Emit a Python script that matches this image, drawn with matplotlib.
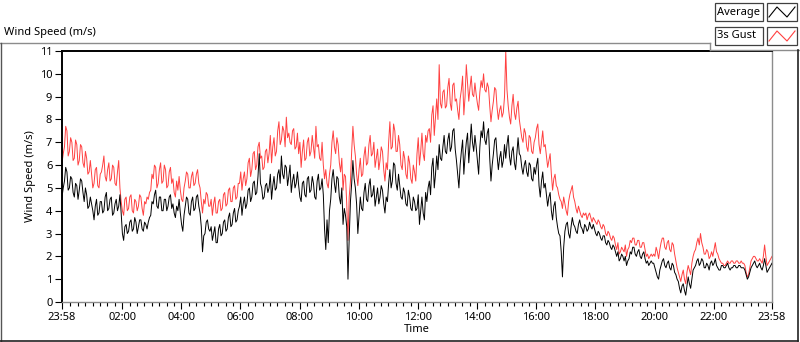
import matplotlib
matplotlib.use("Agg")
import matplotlib.pyplot as plt
from matplotlib.lines import Line2D
from matplotlib.patches import Rectangle
import numpy as np

plt.rcParams['font.family'] = ['Noto Sans', 'DejaVu Sans']

# ---- data: 2.5-minute samples from 23:58 (one row per hour) ----
average = [
    4.6,5.0,5.3,5.9,5.7,4.9,5.0,5.5,5.4,4.8,4.6,5.2,5.1,4.5,4.9,5.4,5.3,4.8,4.4,5.0,4.7,4.1,4.2,4.6,
    4.3,4.0,3.6,4.2,4.5,3.8,3.9,4.4,4.4,3.9,4.0,4.6,4.8,4.0,4.1,4.5,4.6,3.8,3.9,4.3,4.5,4.0,4.2,4.7,
    3.9,3.0,2.7,3.3,3.4,3.0,3.1,3.5,3.6,3.1,3.2,3.7,3.5,3.0,3.3,3.6,3.6,3.2,3.1,3.5,3.4,3.2,3.5,3.7,
    3.8,4.4,4.3,4.7,4.9,4.2,4.1,4.6,4.6,4.0,4.0,4.5,4.5,4.0,4.2,4.6,4.7,4.1,4.3,3.9,3.7,4.2,4.0,4.5,
    3.9,3.4,3.1,3.8,4.2,4.6,4.5,3.9,3.8,4.4,4.6,4.0,4.1,4.6,4.7,4.2,3.9,3.3,2.2,2.9,3.0,3.5,3.6,3.2,
    3.1,3.3,2.7,3.0,3.3,2.6,2.6,3.2,3.4,2.9,3.0,3.5,3.6,3.1,3.2,3.7,3.9,3.3,3.4,3.9,4.1,3.5,3.6,4.0,
    4.2,4.6,3.8,4.3,4.6,4.1,4.3,4.9,5.0,4.4,4.6,5.2,5.3,4.7,4.8,5.5,6.5,5.2,5.0,4.5,4.6,5.1,5.2,4.8,
    5.0,5.6,4.5,5.1,5.5,4.9,5.0,5.6,5.8,5.2,6.4,5.6,5.4,6.0,5.9,5.1,5.5,6.0,4.8,5.3,5.6,5.0,5.2,5.7,
    5.1,4.6,4.4,5.2,5.3,4.7,4.6,5.4,5.5,4.8,4.9,5.5,5.2,4.6,4.5,5.3,5.6,4.9,5.0,5.4,4.7,3.2,2.3,3.6,
    2.6,4.0,4.5,5.4,5.8,5.2,4.8,5.5,5.4,4.6,4.3,5.0,3.4,4.1,3.8,3.3,1.0,2.8,4.4,5.2,6.2,5.4,5.0,4.3,
    3.0,3.8,4.6,4.1,4.0,4.8,5.2,4.5,4.4,5.1,5.4,4.6,4.7,5.1,4.2,4.6,5.0,4.3,4.6,5.1,4.9,4.3,3.9,4.6,
    4.4,5.2,5.8,5.0,5.3,6.1,6.0,5.2,4.9,5.6,5.1,4.6,4.5,5.0,4.8,4.3,4.2,4.9,4.6,4.1,4.0,4.6,4.4,4.0,
    4.1,4.7,3.4,4.0,4.6,3.9,3.6,4.8,4.4,5.0,5.3,4.7,5.9,6.3,5.0,5.6,6.4,5.8,6.9,6.3,6.2,6.8,7.3,6.6,
    6.5,7.1,7.4,6.6,6.8,7.5,7.6,6.7,6.2,5.6,5.0,6.0,6.6,7.1,5.6,6.4,7.0,7.4,6.1,6.9,7.8,7.0,6.6,7.3,
    6.8,6.2,5.6,6.8,7.5,7.2,7.9,7.1,6.9,7.4,7.6,6.3,5.3,6.0,6.5,7.1,7.2,6.4,5.8,6.3,6.6,5.9,6.2,6.9,
    6.3,6.9,7.3,6.4,6.0,6.6,6.8,6.1,5.8,6.5,7.2,6.5,6.4,5.9,5.6,6.0,6.2,5.7,5.5,6.1,6.0,5.4,5.3,5.9,
    5.6,6.0,6.3,5.1,4.6,5.3,5.7,5.0,5.2,4.7,4.2,4.6,4.8,4.0,3.6,4.2,4.4,3.7,3.3,3.0,2.9,2.2,1.1,2.4,
    3.1,3.4,3.5,3.0,2.8,3.3,3.7,3.4,3.3,3.1,3.0,3.4,3.6,3.3,3.2,3.0,3.4,3.3,3.1,3.2,3.5,3.3,3.2,3.4,
    3.2,3.0,2.9,3.1,3.0,2.8,2.7,2.9,2.9,2.6,2.5,2.7,2.6,2.4,2.3,2.5,2.4,2.2,2.0,2.2,1.8,1.9,2.1,2.0,
    1.8,2.0,1.6,1.8,1.9,2.2,2.1,2.4,2.4,2.1,2.0,2.2,2.3,2.0,1.9,2.1,2.2,1.9,1.7,1.8,1.6,1.7,1.8,1.7,
    1.7,1.5,1.3,1.1,1.0,1.4,1.6,1.8,1.9,1.6,1.5,1.7,1.8,1.5,1.4,1.7,1.6,1.3,1.2,1.0,0.9,0.6,0.4,0.7,
    0.8,0.5,0.3,0.7,1.1,0.8,0.6,1.0,1.4,1.5,1.6,1.8,1.9,1.6,1.7,1.9,1.8,1.5,1.5,1.7,1.6,1.4,1.7,1.8,
    1.6,1.7,1.9,1.6,1.5,1.4,1.4,1.6,1.6,1.5,1.5,1.6,1.7,1.5,1.4,1.5,1.5,1.6,1.6,1.5,1.5,1.6,1.6,1.5,
    1.5,1.5,1.4,1.2,1.0,1.1,1.3,1.5,1.6,1.7,1.8,1.6,1.5,1.6,1.7,1.5,1.4,1.6,1.9,1.6,1.3,1.4,1.5,1.6,1.7,
]
gust = [
    6.1,6.5,6.8,7.7,7.5,6.4,6.6,7.2,7.0,6.2,6.3,7.1,6.9,6.0,6.2,6.9,6.8,6.1,5.9,6.6,6.3,5.6,5.7,6.2,
    5.6,5.0,5.2,5.8,5.9,5.1,5.0,5.6,5.7,6.0,6.4,5.5,5.3,5.8,6.1,5.3,5.4,6.0,5.9,5.2,5.1,5.7,6.2,5.0,
    4.4,4.0,3.8,4.5,4.6,4.0,4.1,4.6,4.7,4.0,3.9,4.5,4.4,4.0,4.2,4.7,4.6,4.1,3.8,4.4,4.3,4.6,4.5,4.8,
    4.9,5.6,5.4,6.0,5.9,5.0,5.2,5.8,6.1,5.2,5.3,6.0,5.8,5.0,5.1,5.7,5.9,5.2,5.4,4.8,4.6,5.3,4.9,5.5,
    4.9,4.5,4.4,5.0,5.3,5.7,5.6,5.0,5.0,5.5,5.7,5.1,5.2,5.6,5.8,5.2,5.0,4.4,3.9,4.5,4.3,4.8,4.7,4.2,
    4.2,4.5,3.8,4.3,4.6,3.9,3.9,4.4,4.5,4.0,4.1,4.7,4.8,4.2,4.3,4.9,5.0,4.4,4.4,5.0,5.1,4.5,4.6,5.2,
    5.2,5.7,4.9,5.4,5.7,5.1,5.4,6.1,6.3,5.5,5.8,6.5,6.6,5.8,6.0,6.8,7.0,6.3,6.4,5.8,5.9,6.6,6.7,6.1,
    6.5,7.3,6.1,6.8,7.2,6.4,6.6,7.5,7.9,6.9,7.1,7.7,7.5,6.8,8.1,7.2,7.4,7.0,6.9,7.5,7.6,6.7,6.8,7.4,
    6.5,7.0,5.9,6.6,7.1,6.2,6.3,7.0,7.2,6.4,6.6,7.3,6.8,6.3,7.7,6.8,6.9,6.3,6.2,7.0,6.0,5.4,5.8,5.2,
    5.0,5.6,6.0,7.0,7.5,6.8,6.5,7.2,6.9,6.1,5.7,6.3,4.9,5.6,5.5,4.3,2.7,4.6,5.3,6.6,7.7,6.9,6.4,5.6,
    5.1,5.8,6.3,5.5,5.6,6.4,6.8,6.0,6.1,6.9,7.3,6.4,6.5,7.0,5.9,6.3,6.7,5.8,6.2,6.8,6.6,5.8,5.3,6.1,
    5.8,7.0,7.9,6.7,6.8,7.8,7.5,6.6,6.6,7.3,6.9,6.0,5.8,6.6,6.3,5.6,5.4,6.4,6.1,5.4,5.2,6.0,5.7,5.3,
    6.5,7.2,6.0,6.6,7.4,6.5,6.2,7.3,7.0,7.5,7.6,7.0,8.2,8.6,7.3,8.1,8.9,8.0,10.4,8.7,8.5,9.2,9.3,8.5,
    8.6,9.4,9.8,8.7,8.4,9.5,9.6,8.8,8.9,8.4,8.0,8.9,9.3,9.9,8.2,9.0,10.4,9.6,8.8,9.4,9.9,9.1,9.0,9.6,
    9.1,8.7,8.4,9.2,9.7,9.4,10.0,9.3,9.2,9.6,9.4,8.6,7.9,8.4,8.8,9.4,9.3,8.5,8.0,8.4,8.6,8.1,8.3,9.0,
    11.0,9.3,8.6,8.1,7.8,8.6,9.1,8.3,8.0,8.5,8.8,8.0,7.6,7.2,7.0,7.6,7.4,6.8,6.6,7.3,7.2,6.6,6.5,7.0,
    7.2,7.6,7.8,6.9,6.5,7.0,7.5,6.8,6.9,6.4,5.9,6.2,6.5,5.6,4.9,5.4,5.6,5.1,5.0,4.7,4.5,4.4,4.1,4.6,
    4.3,4.0,3.8,4.4,4.7,4.9,5.1,4.6,4.4,4.1,3.9,4.2,4.0,3.8,3.7,3.9,3.8,3.9,3.6,3.8,3.9,3.7,3.5,3.7,
    3.6,3.5,3.4,3.6,3.5,3.3,3.2,3.4,3.3,3.0,2.9,3.1,3.0,2.8,2.7,2.9,2.8,2.5,2.3,2.6,2.1,2.2,2.4,2.3,
    2.2,2.5,2.0,2.3,2.4,2.7,2.6,2.8,2.8,2.5,2.5,2.7,2.7,2.4,2.4,2.6,2.6,2.3,2.0,2.1,1.9,2.0,2.1,2.0,
    2.1,2.0,2.4,2.2,1.9,2.3,2.6,2.8,2.8,2.4,2.3,2.6,2.7,2.3,2.2,2.6,2.5,2.1,1.8,1.5,1.3,1.1,0.9,1.2,
    1.4,1.0,0.8,1.3,1.6,1.4,1.2,1.7,2.0,2.2,2.3,2.6,2.8,2.5,3.0,2.6,2.4,2.1,2.1,2.3,2.2,1.9,2.0,2.2,
    2.0,2.3,2.6,2.2,2.1,1.9,1.8,1.7,1.7,1.6,1.6,1.7,1.8,1.7,1.7,1.8,1.8,1.7,1.7,1.8,1.8,1.7,1.7,1.8,
    1.7,1.7,1.6,1.3,1.1,1.2,1.5,1.8,1.9,2.0,2.0,1.9,1.8,1.8,1.9,1.8,1.7,2.0,2.5,2.0,1.6,1.7,1.8,1.9,2.0,
]
series_names = ["Average", "3s Gust"]
x_tick_labels = ["23:58", "02:00", "04:00", "06:00", "08:00", "10:00", "12:00",
                 "14:00", "16:00", "18:00", "20:00", "22:00", "23:58"]
y_ticks = list(range(0, 12))
span_hours = 24

W, H = 800, 342
fig = plt.figure(figsize=(W / 100, H / 100), dpi=100)

def fx(px):
    return px / W

def fy(py):
    return 1 - py / H

ax = fig.add_axes([fx(62), fy(302), fx(772) - fx(62), fy(51) - fy(302)])

t_avg = np.linspace(0, span_hours, len(average))
t_gust = np.linspace(0, span_hours, len(gust))
red = "#ff4040"
ax.plot(t_gust, gust, color=red, lw=0.7, zorder=2)
ax.plot(t_avg, average, color="black", lw=0.7, zorder=3)

ax.set_xlim(0, 24)
ax.set_ylim(0, 11)

# ticks
off = 2 / 60  # 23:58 -> 00:00
major = [0] + [off + 2 * k for k in range(1, 12)] + [24]
ax.set_xticks(major)
ax.set_xticklabels(x_tick_labels)
minor = [off + 0.25 * k for k in range(0, 96)]
minor = [m for m in minor if all(abs(m - M) > 0.05 for M in major) and m < 24]
ax.set_xticks(minor, minor=True)
ax.set_yticks(y_ticks)
ax.set_yticklabels([str(v) for v in y_ticks])
ax.tick_params(axis="both", which="major", direction="out", length=5, width=0.8,
               labelsize=8, colors="black", pad=2)
ax.tick_params(axis="x", which="minor", direction="out", length=3, width=0.8)

for side in ["top", "left"]:
    ax.spines[side].set_color("black")
    ax.spines[side].set_linewidth(1.4)
for side in ["bottom", "right"]:
    ax.spines[side].set_color("#8c8c8c")
    ax.spines[side].set_linewidth(1.0)

ax.set_xlabel("Time", fontsize=8)
ax.xaxis.set_label_coords(0.5, (302 - 324) / 251.0)
ax.set_ylabel("Wind Speed (m/s)", fontsize=8)
ax.yaxis.set_label_coords((36 - 62) / 710.0, 0.5)

# title
fig.text(fx(4), fy(32), "Wind Speed (m/s)", fontsize=8, va="center", ha="left")

# outer frame
fig.add_artist(Line2D([fx(0), fx(710)], [fy(42.5), fy(42.5)], color="#8c8c8c", lw=1))
fig.add_artist(Line2D([fx(710), fx(710)], [fy(42.5), fy(49.5)], color="#8c8c8c", lw=1))
fig.add_artist(Line2D([fx(710), fx(800)], [fy(49.5), fy(49.5)], color="#8c8c8c", lw=1))
fig.add_artist(Line2D([fx(0.5), fx(0.5)], [fy(42.5), fy(341)], color="#555555", lw=1))
fig.add_artist(Line2D([fx(0), fx(798)], [fy(341), fy(341)], color="#222222", lw=1.2))
fig.add_artist(Line2D([fx(797.5), fx(797.5)], [fy(49.5), fy(341)], color="#222222", lw=1.2))

# legend
colors = ["black", red]
for i, (name, c) in enumerate(zip(series_names, colors)):
    top = 3 + 24 * i
    fig.add_artist(Rectangle((fx(715), fy(top + 18)), fx(48), fy(0) - fy(18),
                             facecolor="white", edgecolor="#404040", lw=0.9))
    fig.text(fx(717), fy(top + 9), name, fontsize=8, va="center", ha="left")
    fig.add_artist(Rectangle((fx(767), fy(top + 18)), fx(30), fy(0) - fy(18),
                             facecolor="white", edgecolor="#404040", lw=0.9))
    zx = [769, 777, 787, 795]
    zy = [top + 14, top + 4, top + 14, top + 4]
    fig.add_artist(Line2D([fx(v) for v in zx], [fy(v) for v in zy], color=c, lw=0.8))

fig.savefig("out.png", dpi=100)
